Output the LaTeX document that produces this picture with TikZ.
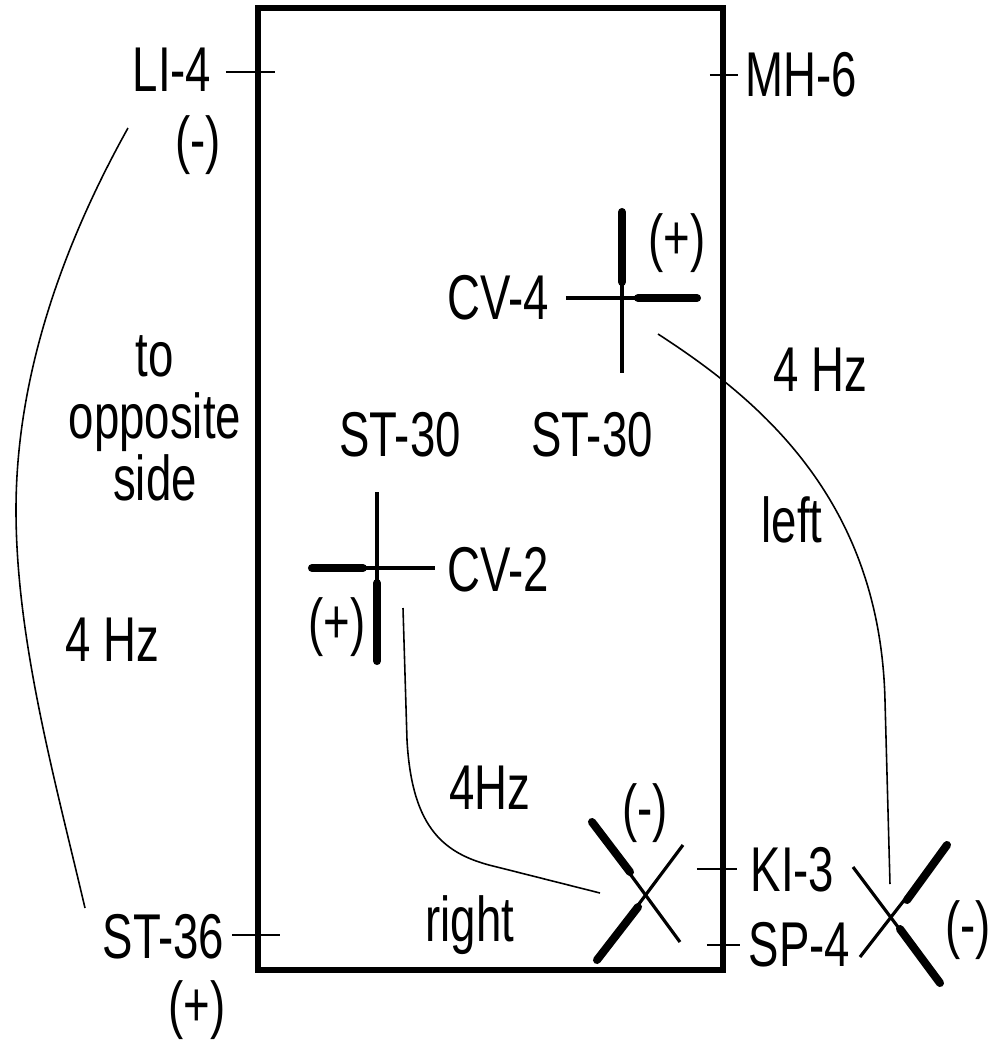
\documentclass[tikz,border=0pt]{standalone}
\usepackage{fontspec}
\setmainfont{Liberation Sans}[FakeStretch=0.72]
\usetikzlibrary{positioning}

\begin{document}
\begin{tikzpicture}[
  x=0.01cm, y=-0.01cm,
  every node/.style={font=\fontsize{18}{17.6}\selectfont, inner sep=0pt},
  frame/.style={line width=1.5pt},
  tick/.style={line width=0.6pt},
  needle/.style={line width=0.9pt},
  needletip/.style={line width=2.3pt, line cap=round},
  wire/.style={line width=0.45pt},
  sign/.style={font=\fontsize{18}{17.6}\selectfont}
]
  \useasboundingbox (0,0) rectangle (997,1047);

  % Rahmen
  \draw[frame] (258,8) rectangle (723,970);

  % Punkte links
  \node[anchor=east] (li4) at (212,70) {LI-4};
  \node[sign] (li4sign) at (198,145) {(-)};
  \node[anchor=east] (st36) at (225,937) {ST-36};
  \node[sign] (st36sign) at (197,1010) {(+)};
  \draw[tick] (li4.east) ++(14,2) -- ++(49,0);
  \draw[tick] (st36.east) ++(7,-2) -- ++(48,0);

  % Punkte rechts
  \node[anchor=west] (mh6) at (745,75) {MH-6};
  \node[anchor=west] (ki3) at (750,870) {KI-3};
  \node[anchor=west] (sp4) at (748,945) {SP-4};
  \draw[tick] (mh6.west) ++(-35,0) -- ++(28,0);
  \draw[tick] (ki3.west) ++(-53,-1) -- ++(40,0);
  \draw[tick] (sp4.west) ++(-41,0) -- ++(33,0);

  % Beschriftungen
  \node[align=center] (opp) at (155,418) {to\\opposite\\side};
  \node (hzleft) at (112,640) {4 Hz};
  \node (stthirtyA) at (400,435) {ST-30};
  \node (stthirtyB) at (592,435) {ST-30};
  \node (hzright) at (820,370) {4 Hz};
  \node (lefttxt) at (792,520) {left};
  \node (hzmid) at (490,788) {4Hz};
  \node (righttxt) at (470,925) {right};

  % Nadel CV-4
  \coordinate (cvfour) at (622,298);
  \node[anchor=east] (cv4) at (550,298) {CV-4};
  \node[sign] (cv4sign) at (677,243) {(+)};
  \draw[needle] (cvfour) ++(-56,0) -- ++(131,0);
  \draw[needle] (cvfour) ++(0,-88) -- ++(0,163);
  \draw[needletip] (cvfour) ++(16,0) -- ++(59,0);
  \draw[needletip] (cvfour) ++(0,-86) -- ++(0,70);

  % Nadel CV-2
  \coordinate (cvtwo) at (377,568);
  \node[anchor=west] (cv2) at (447,570) {CV-2};
  \node[sign] (cv2sign) at (337,627) {(+)};
  \draw[needle] (cvtwo) ++(-67,0) -- ++(125,0);
  \draw[needle] (cvtwo) ++(0,-76) -- ++(0,171);
  \draw[needletip] (cvtwo) ++(-65,0) -- ++(51,0);
  \draw[needletip] (cvtwo) ++(0,15) -- ++(0,78);

  % Nadelkreuz innen
  \coordinate (xinA) at (592,822);
  \coordinate (xinB) at (680,942);
  \coordinate (xinC) at (683,845);
  \coordinate (xinD) at (597,960);
  \node[sign] (xinsign) at (645,813) {(-)};
  \draw[needle] (xinA) -- (xinB);
  \draw[needle] (xinC) -- (xinD);
  \draw[needletip] (xinA) -- (630,872);
  \draw[needletip] (638,907) -- (xinD);

  % Nadelkreuz aussen
  \coordinate (xoutA) at (853,867);
  \coordinate (xoutB) at (940,983);
  \coordinate (xoutC) at (947,845);
  \coordinate (xoutD) at (860,957);
  \node[sign] (xoutsign) at (968,930) {(-)};
  \draw[needle] (xoutA) -- (xoutB);
  \draw[needle] (xoutC) -- (xoutD);
  \draw[needletip] (900,929) -- (xoutB);
  \draw[needletip] (xoutC) -- (907,900);

  % Verbindungen
  \coordinate (wireLa) at (128,128);
  \coordinate (wireLb) at (85,908);
  \draw[wire] (wireLa) .. controls (60,250) and (16,380) .. (16,510)
    .. controls (16,640) and (55,780) .. (wireLb);

  \coordinate (wireRa) at (658,334);
  \coordinate (wireRb) at (890,884);
  \draw[wire] (wireRa) .. controls (760,400) and (880,500) .. (885,700) -- (wireRb);

  \coordinate (wireMa) at (403,608);
  \coordinate (wireMb) at (600,893);
  \draw[wire] (wireMa) -- (407,740) .. controls (412,830) and (445,855) .. (497,867) -- (wireMb);

\end{tikzpicture}
\end{document}
